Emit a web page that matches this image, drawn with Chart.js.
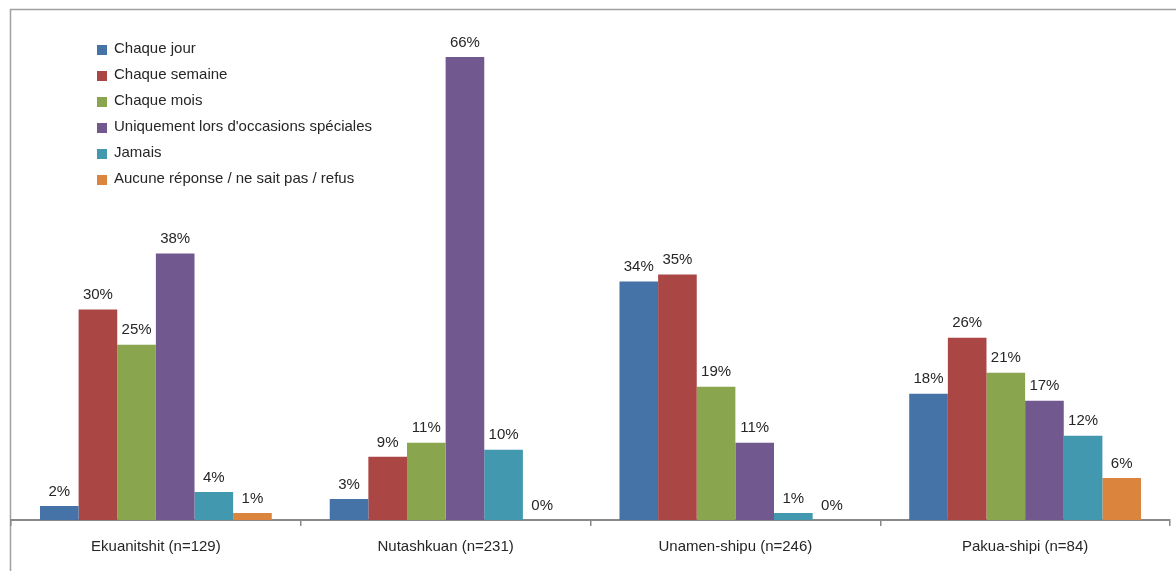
<!DOCTYPE html>
<html>
<head>
<meta charset="utf-8">
<script src="https://cdn.jsdelivr.net/npm/chart.js@4/dist/chart.umd.min.js"></script>
<style>
  html, body { margin: 0; padding: 0; background: #fff; }
  #wrap { width: 1176px; height: 571px; position: relative; }
</style>
</head>
<body>
<div id="wrap"><canvas id="myChart" width="1176" height="571"></canvas></div>
<script>
// Categories and series
const categories = ['Ekuanitshit (n=129)', 'Nutashkuan (n=231)', 'Unamen-shipu (n=246)', 'Pakua-shipi (n=84)'];
const seriesNames = [
  'Chaque jour',
  'Chaque semaine',
  'Chaque mois',
  "Uniquement lors d'occasions spéciales",
  'Jamais',
  'Aucune réponse / ne sait pas / refus'
];
const chaqueJour     = [2, 3, 34, 18];
const chaqueSemaine  = [30, 9, 35, 26];
const chaqueMois     = [25, 11, 19, 21];
const occasions      = [38, 66, 11, 17];
const jamais         = [4, 10, 1, 12];
const aucuneReponse  = [1, 0, 0, 6];
const colors = ['#4572A7', '#AA4643', '#89A54E', '#71588F', '#4198AF', '#DB843D'];

const FONT = '"Liberation Sans Narrow", "Arial Narrow", "Liberation Sans", Arial, sans-serif';

const allValues = [chaqueJour, chaqueSemaine, chaqueMois, occasions, jamais, aucuneReponse];

const data = {
  labels: categories,
  datasets: allValues.map((vals, i) => ({
    label: seriesNames[i],
    data: vals,
    backgroundColor: colors[i],
    borderWidth: 0,
    categoryPercentage: 0.8,
    barPercentage: 1.0
  }))
};

// Outer frame (top + left edges), value labels and the legend inside the plot
const decorations = {
  id: 'decorations',
  beforeDraw(chart) {
    const c = chart.ctx;
    c.save();
    c.strokeStyle = '#a0a0a0';
    c.lineWidth = 1.5;
    c.beginPath();
    c.moveTo(10.5, 571);
    c.lineTo(10.5, 9.5);
    c.lineTo(1176, 9.5);
    c.stroke();
    c.restore();
  },
  afterDatasetsDraw(chart) {
    const c = chart.ctx;
    c.save();
    c.font = '15px ' + FONT;
    c.fillStyle = '#262626';
    c.textAlign = 'center';
    c.textBaseline = 'bottom';
    chart.data.datasets.forEach((ds, i) => {
      chart.getDatasetMeta(i).data.forEach((bar, j) => {
        c.fillText(ds.data[j] + '%', bar.x, bar.y - 7);
      });
    });
    // legend
    c.textAlign = 'left';
    c.textBaseline = 'middle';
    chart.data.datasets.forEach((ds, i) => {
      const y = 49 + i * 26;
      c.fillStyle = ds.backgroundColor;
      c.fillRect(97, y - 4, 10, 10);
      c.fillStyle = '#262626';
      c.fillText(ds.label, 114, y);
    });
    c.restore();
  }
};

const config = {
  type: 'bar',
  data: data,
  options: {
    responsive: false,
    animation: false,
    layout: { padding: { left: 11, right: 6, top: 29, bottom: 3 } },
    plugins: {
      legend: { display: false },
      tooltip: { enabled: false }
    },
    scales: {
      x: {
        grid: {
          display: true,
          drawOnChartArea: false,
          drawTicks: true,
          tickLength: 6,
          color: '#888',
          lineWidth: 1.5
        },
        border: { display: true, color: '#888', width: 2 },
        ticks: {
          font: { size: 15, family: FONT },
          color: '#262626',
          padding: 12
        }
      },
      y: {
        display: false,
        min: 0,
        max: 70
      }
    }
  },
  plugins: [decorations]
};

const myChart = new Chart(document.getElementById('myChart').getContext('2d'), config);
</script>
</body>
</html>
